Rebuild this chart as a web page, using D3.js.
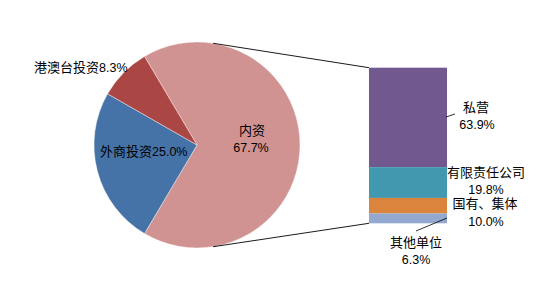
<!DOCTYPE html>
<html><head><meta charset="utf-8">
<script src="https://cdn.jsdelivr.net/npm/d3@7"></script>
<style>
html,body{margin:0;padding:0;background:#fff;}
text{font-family:"Noto Sans CJK SC","Noto Sans",sans-serif;font-size:13px;fill:#000;}
.num{font-family:"Liberation Sans",Arial,sans-serif;font-size:12.5px;}
</style></head>
<body><svg id="c" width="536" height="286"></svg>
<script>
const pieLabels = ["内资","外商投资","港澳台投资"];
const pieValues = [67.7, 25.0, 8.3];
const pieColors = ["#D19392","#4572A7","#AA4643"];
const barLabels = ["私营","有限责任公司","国有、集体","其他单位"];
const barValues = [63.9, 19.8, 10.0, 6.3];
const barColors = ["#71588F","#4198AF","#DB843D","#93A9CF"];

const svg = d3.select("#c");
const cx = 197, cy = 145, R = 103;
const total = d3.sum(pieValues);
const span = pieValues[0]/total*2*Math.PI;
const start = Math.PI/2 - span/2;
const pie = d3.pie().sort(null).value(d=>d).startAngle(start).endAngle(start+2*Math.PI);
const arcs = pie(pieValues);
const arc = d3.arc().innerRadius(0).outerRadius(R);
const g = svg.append("g").attr("transform",`translate(${cx},${cy})`);
g.selectAll("path").data(arcs).join("path")
  .attr("d",arc).attr("fill",(d,i)=>pieColors[i])
  .attr("stroke","#fff").attr("stroke-width",0.4);

// bar of pie
const barX0 = 369, barX1 = 447;
const y = d3.scaleLinear().domain([0, d3.sum(barValues)]).range([223.3, 67.7]);
let cum = 0;
const segs = barValues.slice().reverse().map(v=>{const o={y0:cum,y1:cum+v,v};cum+=v;return o;}).reverse();
svg.selectAll("rect.b").data(segs).join("rect").attr("class","b")
  .attr("x",barX0).attr("width",barX1-barX0)
  .attr("y",d=>y(d.y1)).attr("height",d=>y(d.y0)-y(d.y1))
  .attr("fill",(d,i)=>barColors[i]);

// connector lines
const a1 = 9*Math.PI/180, a2 = 171*Math.PI/180;
const lines = [
  [cx+R*Math.sin(a1), cy-R*Math.cos(a1), barX0, y(d3.sum(barValues))],
  [cx+R*Math.sin(a2), cy-R*Math.cos(a2), barX0, y(0)]
];
svg.selectAll("line.c").data(lines).join("line").attr("class","c")
  .attr("x1",d=>d[0]).attr("y1",d=>d[1]).attr("x2",d=>d[2]).attr("y2",d=>d[3])
  .attr("stroke","#000").attr("stroke-width",0.9);

// leader lines
const leaders = [[446,117,455,114],[447,218,416,231]];
svg.selectAll("line.l").data(leaders).join("line").attr("class","l")
  .attr("x1",d=>d[0]).attr("y1",d=>d[1]).attr("x2",d=>d[2]).attr("y2",d=>d[3])
  .attr("stroke","#000").attr("stroke-width",0.8);

function fmt(v){return v.toFixed(1)+"%";}
// pie labels
function mixed(x,yy,lab,v){
  const t = svg.append("text").attr("x",x).attr("y",yy);
  t.append("tspan").text(lab);
  t.append("tspan").attr("class","num").text(fmt(v));
}
mixed(34,72,pieLabels[2],pieValues[2]);
mixed(100,156,pieLabels[1],pieValues[1]);
svg.append("text").attr("x",252).attr("y",135).attr("text-anchor","middle").text(pieLabels[0]);
svg.append("text").attr("class","num").attr("x",251).attr("y",152).attr("text-anchor","middle").text(fmt(pieValues[0]));

// bar labels
const barLabelPos = [[476,112,477,129],[486,177,486,194],[485,208,486,226],[416,247,416,264]];
barLabels.forEach((l,i)=>{
  const p = barLabelPos[i];
  svg.append("text").attr("x",p[0]).attr("y",p[1]).attr("text-anchor","middle").text(l);
  svg.append("text").attr("class","num").attr("x",p[2]).attr("y",p[3]).attr("text-anchor","middle").text(fmt(barValues[i]));
});
</script></body></html>
